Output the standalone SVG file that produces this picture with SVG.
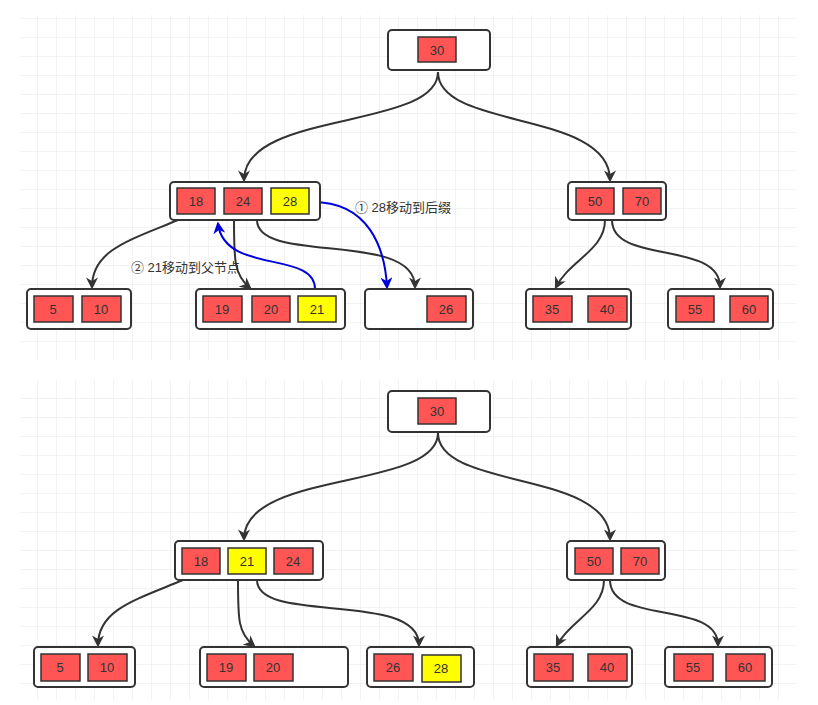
<svg xmlns="http://www.w3.org/2000/svg" width="818" height="705" viewBox="0 0 818 705">
<defs>
<pattern id="g" width="19" height="19" patternUnits="userSpaceOnUse"><path d="M19 0V19H0" fill="none" stroke="#e6e6e6" stroke-width="1"/></pattern>
<marker id="a" viewBox="0 0 10 10" refX="8" refY="5" markerWidth="6" markerHeight="6" orient="auto"><path d="M0 0L10 5L0 10L3 5z" fill="#333"/></marker>
<marker id="b" viewBox="0 0 10 10" refX="8" refY="5" markerWidth="6" markerHeight="6" orient="auto"><path d="M0 0L10 5L0 10L3 5z" fill="#0000dd"/></marker>
<style>
.n{fill:#fff;stroke:#333;stroke-width:2}
.k{fill:#f55;stroke:#333;stroke-width:1.5}
.y{fill:#ff0;stroke:#333;stroke-width:1.5}
text{font-family:"Liberation Sans","Noto Sans CJK SC",sans-serif;font-size:13px;fill:#333;text-anchor:middle;dominant-baseline:central}
.l{text-anchor:start;font-size:13px}
.c{fill:none;stroke:#333;stroke-width:2;marker-end:url(#a)}
.bl{fill:none;stroke:#0000dd;stroke-width:2;marker-end:url(#b)}
</style>
</defs>
<rect width="818" height="705" fill="#fff"/>
<rect x="20" y="15" width="777" height="345" fill="url(#g)"/>
<rect x="20" y="380" width="777" height="320" fill="url(#g)"/>

<g id="connectors">
<path class="c" d="M438,72 C438,130 244,110 244,180"/>
<path class="c" d="M438,72 C438,130 610,110 610,180"/>
<path class="c" d="M178,220 C130,240 92,250 92,287"/>
<path class="c" d="M234,220 C234,260 234,275 250,288"/>
<path class="c" d="M257,220 C257,265 415,230 415,287"/>
<path class="c" d="M605,220 C605,250 570,260 556,287"/>
<path class="c" d="M612,220 C612,265 720,240 720,287"/>
<path class="bl" d="M309,202 C370,200 385,250 387,287"/>
<path class="bl" d="M315,289 C315,250 225,275 218,224"/>

<path class="c" d="M438,433 C438,490 244,470 244,539"/>
<path class="c" d="M438,433 C438,490 610,470 610,539"/>
<path class="c" d="M183,580 C135,600 98,610 98,645"/>
<path class="c" d="M238,580 C238,620 238,633 254,646"/>
<path class="c" d="M257,580 C257,625 419,590 419,645"/>
<path class="c" d="M604,580 C604,610 570,620 557,645"/>
<path class="c" d="M610,580 C610,625 718,600 718,645"/>
</g>
<text class="l" x="355" y="207">① 28移动到后缀</text>
<text class="l" x="131" y="267">② 21移动到父节点</text>

<g id="t-root"><rect class="n" x="388" y="30" width="102" height="40" rx="4"/><rect class="k" x="418" y="37" width="38" height="25"/><text x="437" y="50">30</text></g>
<g id="t-ml"><rect class="n" x="170" y="182" width="150" height="38" rx="4"/>
<rect class="k" x="177" y="188" width="38" height="26"/><text x="196" y="201">18</text>
<rect class="k" x="224" y="188" width="38" height="26"/><text x="243" y="201">24</text>
<rect class="y" x="271" y="188" width="38" height="26"/><text x="290" y="201">28</text></g>
<g id="t-mr"><rect class="n" x="568" y="182" width="98" height="38" rx="4"/>
<rect class="k" x="576" y="188" width="38" height="26"/><text x="595" y="201">50</text>
<rect class="k" x="623" y="188" width="38" height="26"/><text x="642" y="201">70</text></g>
<g id="t-l1"><rect class="n" x="27" y="289" width="104" height="40" rx="4"/>
<rect class="k" x="34" y="296" width="39" height="26"/><text x="53" y="309">5</text>
<rect class="k" x="82" y="296" width="39" height="26"/><text x="101" y="309">10</text></g>
<g id="t-l2"><rect class="n" x="196" y="289" width="149" height="40" rx="4"/>
<rect class="k" x="203" y="296" width="39" height="26"/><text x="222" y="309">19</text>
<rect class="k" x="252" y="296" width="38" height="26"/><text x="271" y="309">20</text>
<rect class="y" x="298" y="296" width="38" height="26"/><text x="317" y="309">21</text></g>
<g id="t-l3"><rect class="n" x="365" y="289" width="108" height="40" rx="4"/>
<rect class="k" x="427" y="296" width="39" height="26"/><text x="446" y="309">26</text></g>
<g id="t-l4"><rect class="n" x="526" y="289" width="105" height="40" rx="4"/>
<rect class="k" x="533" y="296" width="39" height="26"/><text x="552" y="309">35</text>
<rect class="k" x="588" y="296" width="39" height="26"/><text x="607" y="309">40</text></g>
<g id="t-l5"><rect class="n" x="668" y="289" width="105" height="40" rx="4"/>
<rect class="k" x="676" y="296" width="38" height="26"/><text x="695" y="309">55</text>
<rect class="k" x="730" y="296" width="38" height="26"/><text x="749" y="309">60</text></g>

<g id="b-root"><rect class="n" x="388" y="391" width="102" height="41" rx="4"/><rect class="k" x="418" y="398" width="38" height="26"/><text x="437" y="411">30</text></g>
<g id="b-ml"><rect class="n" x="175" y="541" width="148" height="39" rx="4"/>
<rect class="k" x="182" y="548" width="38" height="26"/><text x="201" y="561">18</text>
<rect class="y" x="228" y="548" width="38" height="26"/><text x="247" y="561">21</text>
<rect class="k" x="274" y="548" width="39" height="26"/><text x="293" y="561">24</text></g>
<g id="b-mr"><rect class="n" x="567" y="541" width="98" height="39" rx="4"/>
<rect class="k" x="575" y="548" width="38" height="26"/><text x="594" y="561">50</text>
<rect class="k" x="621" y="548" width="38" height="26"/><text x="640" y="561">70</text></g>
<g id="b-l1"><rect class="n" x="34" y="647" width="101" height="40" rx="4"/>
<rect class="k" x="41" y="654" width="39" height="27"/><text x="60" y="667">5</text>
<rect class="k" x="88" y="654" width="39" height="27"/><text x="107" y="667">10</text></g>
<g id="b-l2"><rect class="n" x="200" y="647" width="148" height="40" rx="4"/>
<rect class="k" x="207" y="654" width="39" height="27"/><text x="226" y="667">19</text>
<rect class="k" x="254" y="654" width="39" height="27"/><text x="273" y="667">20</text></g>
<g id="b-l3"><rect class="n" x="367" y="647" width="107" height="40" rx="4"/>
<rect class="k" x="374" y="654" width="39" height="27"/><text x="393" y="667">26</text>
<rect class="y" x="422" y="655" width="39" height="27"/><text x="441" y="668">28</text></g>
<g id="b-l4"><rect class="n" x="527" y="647" width="105" height="40" rx="4"/>
<rect class="k" x="534" y="654" width="39" height="27"/><text x="553" y="667">35</text>
<rect class="k" x="588" y="654" width="39" height="27"/><text x="607" y="667">40</text></g>
<g id="b-l5"><rect class="n" x="665" y="647" width="107" height="40" rx="4"/>
<rect class="k" x="674" y="654" width="39" height="27"/><text x="693" y="667">55</text>
<rect class="k" x="726" y="654" width="39" height="27"/><text x="745" y="667">60</text></g>
</svg>
